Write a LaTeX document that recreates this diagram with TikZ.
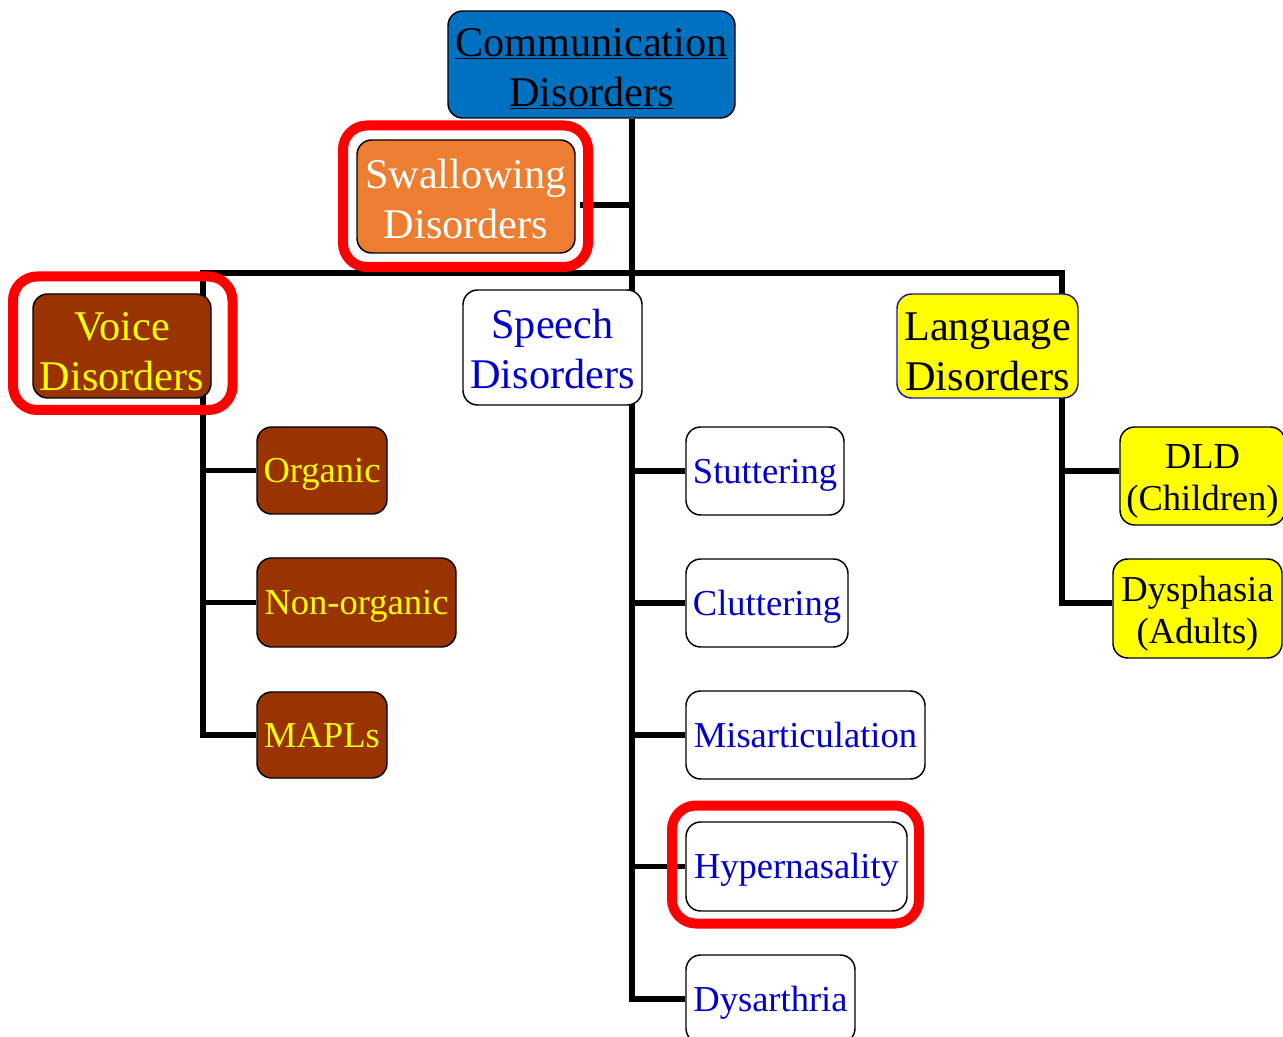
\documentclass[tikz,border=0pt]{standalone}
\usepackage{fontspec}
\setmainfont{Liberation Serif}
\usetikzlibrary{fit,backgrounds}
\definecolor{cblue}{HTML}{0070C0}
\definecolor{corange}{HTML}{ED7D31}
\definecolor{cbrown}{HTML}{993300}
\definecolor{cyellow}{HTML}{FFFF00}
\definecolor{ctext}{HTML}{0000CC}
\definecolor{cnavy}{HTML}{1A1A99}
\newcommand{\stB}{\rule[-6.85pt]{0pt}{35.05pt}}
\newcommand{\stBx}[1]{\rule[-6.85pt]{0pt}{\dimexpr35.05pt+#1\relax}}
\newcommand{\stS}{\rule[-5.9pt]{0pt}{30.3pt}}
\newcommand{\stSx}[1]{\rule[-5.9pt]{0pt}{\dimexpr30.3pt+#1\relax}}
\tikzset{
  box/.style={draw=black, line width=1.1pt, rounded corners=11pt, inner sep=0pt, align=center},
  big/.style={font=\fontsize{31.7}{37.5}\selectfont},
  small/.style={font=\fontsize{27.4}{31.5}\selectfont},
  sz/.style 2 args={minimum width=#1*0.75pt, minimum height=#2*0.75pt},
  conn/.style={draw=black, line width=3.8pt, line join=miter},
  hl/.style={draw=red, line width=7.5pt, rounded corners=18pt, inner sep=0pt},
  commbox/.style={box, big, fill=cblue, text=black},
  swallowbox/.style={box, big, fill=corange, text=white},
  voicebox/.style={box, fill=cbrown, text=cyellow},
  speechbox/.style={box, fill=white, text=ctext},
  langbox/.style={box, fill=cyellow, text=black},
}
\begin{document}
\begin{tikzpicture}[x=0.75pt, y=-0.75pt]
\useasboundingbox (0,0) rectangle (1283,1037);
\clip (0,0) rectangle (1283,1037);

% main nodes
\node[commbox, sz={287}{107}] (comm) at (591.5,64.5) {\stBx{3.8pt}\underline{Communication}\\\stB\underline{Disorders}};
\node[swallowbox, sz={218}{113}] (swallow) at (466,196.5) {\stBx{3.8pt}Swallowing\\\stB Disorders};
\node[voicebox, big, sz={178}{104}] (voice) at (122,346) {\stBx{0.8pt}Voice\\Disorders};
\node[speechbox, big, sz={179}{115}] (speech) at (552.5,347.5) {\stBx{3pt}Speech\\\stB Disorders};
\node[langbox, big, draw=cnavy, sz={181}{104}] (lang) at (987.5,346) {\stBx{0.8pt}Language\\Disorders};

% voice children
\node[voicebox, small, sz={130}{87}] (organic) at (322,470.5) {\stS Organic};
\node[voicebox, small, sz={199}{89}] (nonorg) at (356.5,602.5) {\stS Non-organic};
\node[voicebox, small, sz={130}{86}] (mapls) at (322,735) {\stS MAPLs};

% speech children
\node[speechbox, small, sz={158}{88}] (stutt) at (765,471) {\stS Stuttering};
\node[speechbox, small, sz={162}{88}] (clutt) at (767,603) {\stS Cluttering};
\node[speechbox, small, sz={239}{88}] (misart) at (805.5,735) {\stS Misarticulation};
\node[speechbox, small, sz={221}{89}] (hyper) at (796.5,866.5) {\stS Hypernasality};
\node[speechbox, small, sz={169}{88}] (dys) at (770.5,999) {\stS Dysarthria};

% language children
\node[langbox, small, sz={165}{98}] (dld) at (1202.5,476) {\stSx{2pt}DLD\\\stS (Children)};
\node[langbox, small, sz={169}{99}] (dysph) at (1197.5,608.5) {\stSx{3pt}Dysphasia\\\stS (Adults)};

% junctions
\coordinate (jtop) at (632,273);
\coordinate (jvoice) at (203,273);
\coordinate (jlang) at (1062,273);
\coordinate (swy) at (580,205);

\begin{scope}[on background layer]
  \fill[white] (0,0) rectangle (1283,1037);
  \draw[conn] (comm.south -| jtop) -- (jtop |- dys) -- (dys.west);
  \draw[conn] (swy) -- (swy -| jtop);
  \draw[conn] (mapls.west) -| (jvoice) -- (jlang) |- (dysph.west |- clutt);
  \draw[conn] (jvoice |- organic) -- (organic.west);
  \draw[conn] (jvoice |- nonorg) -- (nonorg.west);
  \draw[conn] (jtop |- stutt) -- (stutt.west);
  \draw[conn] (jtop |- clutt) -- (clutt.west);
  \draw[conn] (jtop |- misart) -- (misart.west);
  \draw[conn] (jtop |- hyper) -- (hyper.west);
  \draw[conn] (jlang |- stutt) -- (dld.west |- stutt);
\end{scope}

% highlight frames
\node[hl, fit={(343,125.5) (588,267)}] (hlswallow) {};
\node[hl, fit={(13,276.5) (232.5,410)}] (hlvoice) {};
\node[hl, fit={(672,805.5) (919,923.5)}] (hlhyper) {};
\end{tikzpicture}
\end{document}
